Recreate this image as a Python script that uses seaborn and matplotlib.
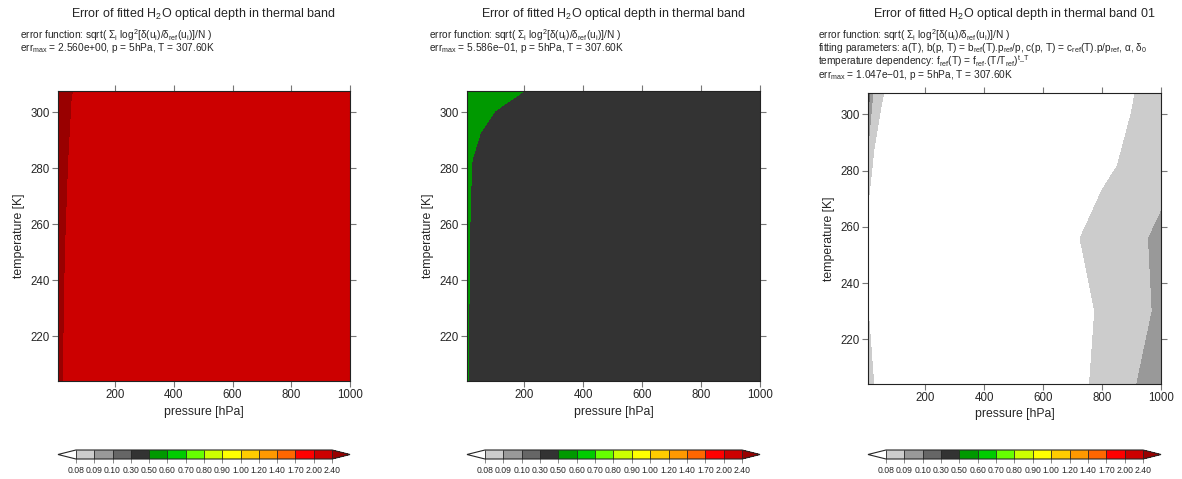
import numpy as np
import matplotlib
matplotlib.use('Agg')
import matplotlib.pyplot as plt
import seaborn as sns
from matplotlib.colors import ListedColormap, BoundaryNorm

# Grade do ajuste (pressao em hPa, temperatura em K)
pressure = [5, 25, 50, 100, 200, 300, 400, 500, 600, 700, 800, 900, 1000]
temperature = [204.1, 230.0, 255.9, 281.7, 307.6]

# Erro no primeiro ajuste (linhas = temperatura)
err_fit1 = [
    [2.45, 2.380, 2.35, 2.33, 2.31, 2.29, 2.28, 2.27, 2.26, 2.25, 2.24, 2.23, 2.22],
    [2.46, 2.395, 2.36, 2.34, 2.32, 2.30, 2.29, 2.28, 2.27, 2.26, 2.25, 2.24, 2.23],
    [2.48, 2.407, 2.36, 2.34, 2.32, 2.30, 2.29, 2.28, 2.27, 2.26, 2.25, 2.24, 2.23],
    [2.50, 2.430, 2.37, 2.35, 2.33, 2.31, 2.30, 2.29, 2.28, 2.27, 2.26, 2.25, 2.24],
    [2.56, 2.470, 2.403, 2.37, 2.34, 2.32, 2.31, 2.30, 2.29, 2.28, 2.27, 2.26, 2.25],
]

# Erro no segundo ajuste
err_fit2 = [
    [0.510, 0.480, 0.460, 0.440, 0.420, 0.410, 0.400, 0.395, 0.390, 0.385, 0.380, 0.375, 0.370],
    [0.510, 0.480, 0.462, 0.442, 0.422, 0.412, 0.402, 0.397, 0.392, 0.387, 0.382, 0.377, 0.372],
    [0.512, 0.485, 0.465, 0.445, 0.425, 0.415, 0.405, 0.400, 0.395, 0.390, 0.385, 0.380, 0.375],
    [0.520, 0.4945, 0.464, 0.407, 0.400, 0.395, 0.390, 0.385, 0.380, 0.378, 0.376, 0.374, 0.372],
    [0.5586, 0.556, 0.550, 0.535, 0.4995, 0.480, 0.460, 0.450, 0.440, 0.430, 0.420, 0.410, 0.400],
]

# Erro no terceiro ajuste (banda 01)
err_fit3 = [
    [0.084, 0.0799, 0.076, 0.073, 0.071, 0.070, 0.070, 0.071, 0.074, 0.078, 0.0815, 0.0885, 0.097],
    [0.0802, 0.076, 0.074, 0.072, 0.070, 0.069, 0.069, 0.070, 0.073, 0.077, 0.081, 0.0865, 0.0915],
    [0.0756, 0.074, 0.073, 0.072, 0.070, 0.069, 0.069, 0.070, 0.074, 0.079, 0.083, 0.0869, 0.0923],
    [0.085, 0.078, 0.075, 0.073, 0.071, 0.070, 0.070, 0.071, 0.073, 0.076, 0.0785, 0.0814, 0.086],
    [0.1047, 0.087, 0.081, 0.075, 0.072, 0.071, 0.071, 0.072, 0.074, 0.077, 0.0790, 0.0795, 0.0838],
]

levels = [0.08, 0.09, 0.10, 0.30, 0.50, 0.60, 0.70, 0.80, 0.90, 1.00, 1.20, 1.40, 1.70, 2.00, 2.40]
level_colors = ['#cccccc', '#999999', '#666666', '#333333', '#009900', '#00cc00', '#66ff00',
                '#ccff00', '#ffff00', '#ffcc00', '#ff9900', '#ff6600', '#ff0000', '#cc0000']
under_color = 'white'
over_color = '#990000'

title = 'Error of fitted H$_2$O optical depth in thermal band'
errfunc = r'error function: sqrt( $\Sigma_i$ log$^2$[$\delta$(u$_i$)/$\delta_{ref}$(u$_i$)]/N )'
panels = [
    (err_fit1, title, [errfunc, 'err$_{max}$ = 2.560e+00, p = 5hPa, T = 307.60K']),
    (err_fit2, title, [errfunc, 'err$_{max}$ = 5.586e\u221201, p = 5hPa, T = 307.60K']),
    (err_fit3, title + ' 01', [
        errfunc,
        r'fitting parameters: a(T), b(p, T) = b$_{ref}$(T).p$_{ref}$/p, c(p, T) = c$_{ref}$(T).p/p$_{ref}$, $\alpha$, $\delta_0$',
        r'temperature dependency: f$_{ref}$(T) = f$_{ref}$.(T/T$_{ref}$)$^{t\_T}$',
        'err$_{max}$ = 1.047e\u221201, p = 5hPa, T = 307.60K']),
]

sns.set_theme(style='ticks')
plt.rcParams['font.family'] = ['Liberation Sans', 'DejaVu Sans']
plt.rcParams['mathtext.fontset'] = 'custom'
plt.rcParams['mathtext.rm'] = 'Liberation Sans'
plt.rcParams['mathtext.it'] = 'Liberation Sans'
plt.rcParams['mathtext.bf'] = 'Liberation Sans:bold'

cmap = ListedColormap(level_colors)
cmap.set_under(under_color)
cmap.set_over(over_color)
norm = BoundaryNorm(levels, cmap.N)

W, H = 1182, 479
fig = plt.figure(figsize=(W / 100, H / 100), dpi=100)

# posicoes em pixels: (esquerda, topo, direita, base)
boxes = [(58, 91, 350, 381), (467, 91, 760, 381), (868, 93, 1161, 384)]

for (err, ttl, lines), (x0, y0, x1, y1) in zip(panels, boxes):
    ax = fig.add_axes([x0 / W, 1 - y1 / H, (x1 - x0) / W, (y1 - y0) / H])
    cs = ax.contourf(pressure, temperature, np.array(err), levels=levels,
                     cmap=cmap, norm=norm, extend='both')
    ax.set_xlim(5, 1000)
    ax.set_ylim(204.1, 307.6)
    ax.set_xticks([200, 400, 600, 800, 1000])
    ax.set_yticks([220, 240, 260, 280, 300])
    ax.tick_params(top=True, right=True, direction='out', length=4, width=0.8,
                   color='#777777', labelsize=8.3, pad=2)
    for s in ax.spines.values():
        s.set_linewidth(0.8)
        s.set_color('#222222')
    ax.set_xlabel('pressure [hPa]', fontsize=8.8, labelpad=3)
    ax.set_ylabel('temperature [K]', fontsize=8.8, labelpad=4)

    xc = (x0 + x1) / 2 / W
    fig.text(xc, 1 - 14 / H, ttl, ha='center', va='center', fontsize=9)
    tx = (x0 - 38 if x0 < 800 else x0 - 50) / W
    for i, line in enumerate(lines):
        fig.text(tx, 1 - (35 + 13.3 * i) / H, line, ha='left', va='center', fontsize=7.3)

    cax = fig.add_axes([x0 / W, 1 - 459 / H, (x1 - x0) / W, 9 / H])
    cb = fig.colorbar(cs, cax=cax, orientation='horizontal', ticks=levels,
                      extendfrac=0.07, drawedges=True, format='%.2f')
    cb.outline.set_linewidth(0.8)
    cb.dividers.set_linewidth(0.6)
    cax.tick_params(labelsize=6.2, length=3, width=0.6, pad=2, color='#777777')

plt.savefig('out.png', dpi=100)
